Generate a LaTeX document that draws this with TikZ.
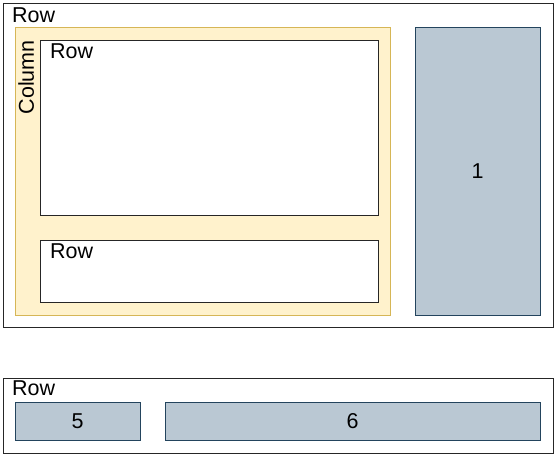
\documentclass[tikz,border=0pt]{standalone}
\usepackage{fontspec}
\setmainfont{Liberation Sans}
\definecolor{colfill}{HTML}{FFF2CC}
\definecolor{coldraw}{HTML}{D6B656}
\definecolor{cellfill}{HTML}{BAC8D3}
\definecolor{celldraw}{HTML}{23445D}

\begin{document}
\begin{tikzpicture}[
  x=1pt,
  y=-1pt,
  font=\fontsize{21.5}{25}\selectfont,
  box/.style={anchor=north west,inner sep=0pt,outer sep=0pt,line width=0.9pt},
  rowbox/.style={box,draw=black!85,fill=white},
  colbox/.style={box,draw=coldraw,fill=colfill},
  cellbox/.style={box,draw=celldraw,fill=cellfill},
  tag/.style={anchor=north west,inner sep=0pt}
]
  \useasboundingbox (0,0) rectangle (557,457);

  % Upper row with its column and cell.
  \node[rowbox,minimum width=550pt,minimum height=324pt] (top) at (3,3) {};
  \node[tag] (toptag) at ([shift={(9,5)}]top.north west) {Row};
  \node[colbox,minimum width=375pt,minimum height=288pt] (col) at (15,27) {};
  \node[tag,rotate=90,anchor=north east] (coltag) at (18,40) {Column};
  \node[rowbox,minimum width=338pt,minimum height=175pt] (inA) at (40,40) {};
  \node[tag] (inAtag) at ([shift={(10,4)}]inA.north west) {Row};
  \node[rowbox,minimum width=338pt,minimum height=62pt] (inB) at (40,240) {};
  \node[tag] (inBtag) at ([shift={(10,4)}]inB.north west) {Row};
  \node[cellbox,minimum width=125pt,minimum height=288pt] (one) at (415,27) {};
  \node (onetag) at (one.center) {1};

  % Lower row with two cells.
  \node[rowbox,minimum width=550pt,minimum height=75pt] (bottom) at (3,378) {};
  \node[tag] (bottomtag) at ([shift={(9,3)}]bottom.north west) {Row};
  \node[cellbox,minimum width=125pt,minimum height=38pt] (five) at (15,402) {};
  \node (fivetag) at (five.center) {5};
  \node[cellbox,minimum width=375pt,minimum height=38pt] (six) at (165,402) {};
  \node (sixtag) at (six.center) {6};
\end{tikzpicture}
\end{document}
